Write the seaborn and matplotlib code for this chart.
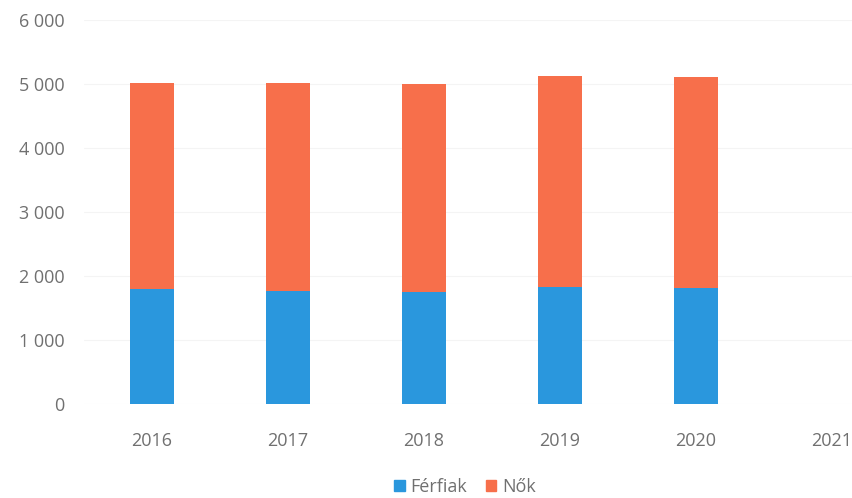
import matplotlib
matplotlib.use("Agg")
import matplotlib.pyplot as plt
import seaborn as sns
import pandas as pd
from matplotlib.ticker import FuncFormatter
from matplotlib.patches import Patch

# Adatok (leolvasva az ábráról)
years = ["2016", "2017", "2018", "2019", "2020", "2021"]
years_with_data = ["2016", "2017", "2018", "2019", "2020"]
ferfiak = [1800, 1770, 1750, 1830, 1810]
nok = [3220, 3250, 3250, 3295, 3300]

blue = "#2a97dd"
orange = "#f76f4b"
text_gray = "#707070"

sns.set_theme(style="white")
plt.rcParams["font.family"] = ["Open Sans", "DejaVu Sans"]

df = pd.DataFrame({"ev": years_with_data, "Férfiak": ferfiak, "Nők": nok})
df["osszes"] = df["Férfiak"] + df["Nők"]

fig = plt.figure(figsize=(8.53, 4.98), dpi=100)
ax = fig.add_axes([84 / 853, 94 / 498, 816 / 853, 384 / 498])

# halmozott oszlopok: előbb az összeg (Nők), rá a Férfiak
sns.barplot(data=df, x="ev", y="osszes", order=years, color=orange,
            width=0.32, saturation=1, linewidth=0, ax=ax)
sns.barplot(data=df, x="ev", y="Férfiak", order=years, color=blue,
            width=0.32, saturation=1, linewidth=0, ax=ax)

ax.set_ylim(0, 6000)
ax.set_xlim(-0.5, 5.5)
ax.set_yticks(range(0, 6001, 1000))
ax.yaxis.set_major_formatter(FuncFormatter(lambda v, p: f"{v:,.0f}".replace(",", " ")))
ax.set_xlabel("")
ax.set_ylabel("")
ax.grid(axis="y", color="#f4f4f4", linewidth=0.8)
ax.set_axisbelow(True)
for s in ax.spines.values():
    s.set_visible(False)
ax.tick_params(axis="y", length=0, pad=14, labelsize=13, labelcolor=text_gray)
ax.tick_params(axis="x", length=0, pad=20, labelsize=13, labelcolor=text_gray)

handles = [Patch(color=blue, label="Férfiak"), Patch(color=orange, label="Nők")]
fig.legend(handles=handles, loc="center", bbox_to_anchor=(465 / 853, 1 - 487 / 498),
           ncol=2, frameon=False, fontsize=13, labelcolor=text_gray,
           handlelength=0.6, handleheight=0.6, handletextpad=0.3, columnspacing=1.0)

fig.savefig("out.png", dpi=100)
